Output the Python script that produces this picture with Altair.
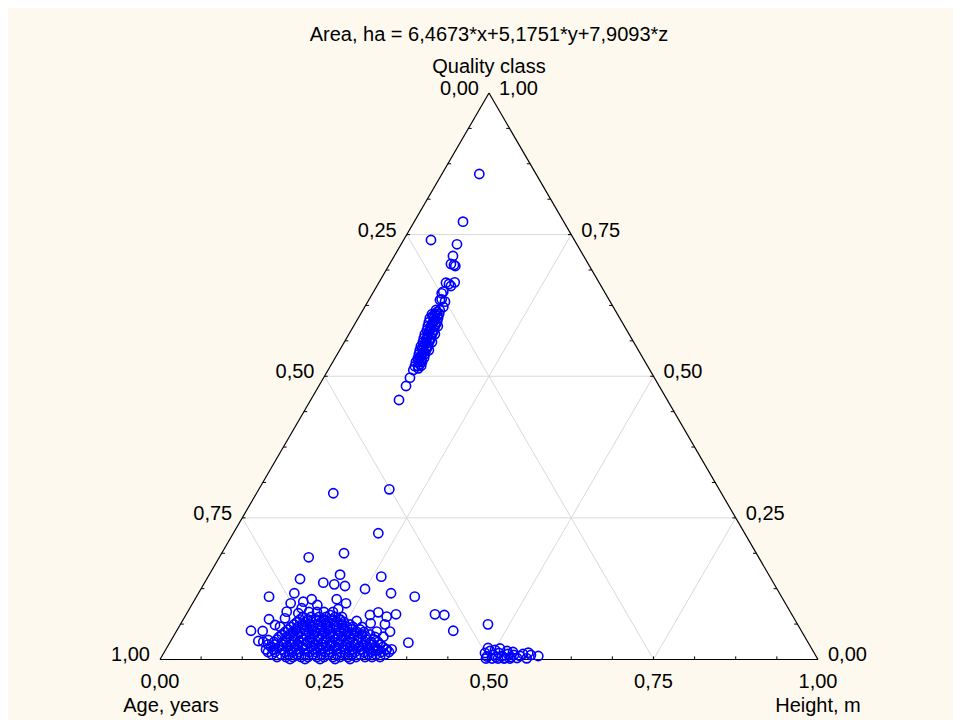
import altair as alt
import pandas as pd

# ---------------- data (ternary fractions) ----------------
# quality = Quality class component (top vertex), height = Height component (bottom-right vertex)
# age = 1 - quality - height (bottom-left vertex)

diag_quality = [0.8570, 0.7728, 0.7405, 0.7329, 0.7123, 0.6981, 0.6964, 0.6946, 0.6651, 0.6628,
                0.6658, 0.6593, 0.6493, 0.6358, 0.6316, 0.6222, 0.6464, 0.6346,
                0.6170, 0.6165, 0.6099, 0.6104, 0.6095, 0.6028, 0.6031, 0.6024,
                0.5958, 0.5962, 0.5953, 0.5887, 0.5890, 0.5884, 0.5882,
                0.5816, 0.5820, 0.5812, 0.5746, 0.5749, 0.5742, 0.5744,
                0.5675, 0.5679, 0.5671, 0.5605, 0.5608, 0.5601, 0.5603,
                0.5534, 0.5538, 0.5530, 0.5463, 0.5467, 0.5459, 0.5461,
                0.5393, 0.5396, 0.5389, 0.5322, 0.5326, 0.5318,
                0.5252, 0.5255, 0.5248, 0.5181, 0.5185, 0.5177,
                0.5110, 0.5140, 0.4974, 0.4828, 0.4581,
                0.6134, 0.6064, 0.6064, 0.5993, 0.5922, 0.5922, 0.5852, 0.5781, 0.5781, 0.5711,
                0.5640, 0.5640, 0.5569, 0.5499, 0.5499, 0.5428, 0.5357, 0.5287, 0.5287, 0.5216]
diag_height = [0.0568, 0.0741, 0.0416, 0.0849, 0.0891, 0.0931, 0.0986, 0.1015, 0.1021, 0.1078,
               0.1150, 0.1125, 0.1059, 0.1102, 0.1173, 0.1194, 0.1049, 0.1082,
               0.1110, 0.1170, 0.1130, 0.1191, 0.1085, 0.1150, 0.1211, 0.1089,
               0.1170, 0.1231, 0.1109, 0.1175, 0.1235, 0.1129, 0.1281,
               0.1195, 0.1256, 0.1150, 0.1200, 0.1261, 0.1154, 0.1306,
               0.1220, 0.1281, 0.1174, 0.1241, 0.1286, 0.1195, 0.1332,
               0.1245, 0.1306, 0.1200, 0.1265, 0.1311, 0.1219, 0.1356,
               0.1286, 0.1331, 0.1240, 0.1290, 0.1351, 0.1260,
               0.1310, 0.1356, 0.1265, 0.1331, 0.1377, 0.1285,
               0.1295, 0.1356, 0.1312, 0.1325, 0.1342,
               0.1143, 0.1117, 0.1178, 0.1183, 0.1173, 0.1234, 0.1193, 0.1197, 0.1258, 0.1218,
               0.1223, 0.1283, 0.1242, 0.1233, 0.1309, 0.1298, 0.1288, 0.1324, 0.1278, 0.1343]

low_quality = [0.2934, 0.3004, 0.2228, 0.1804, 0.1875, 0.1421, 0.1356, 0.1327, 0.1497, 0.1297,
               0.1462, 0.1244, 0.1169, 0.1109, 0.1109, 0.1169, 0.0992, 0.1063, 0.0962, 0.1063,
               0.0992, 0.0891, 0.1020, 0.0904, 0.0816, 0.0844, 0.0727, 0.0710, 0.0508, 0.0503,
               0.0327, 0.0314, 0.0344, 0.0609, 0.0579, 0.0786, 0.0697, 0.0680, 0.0786, 0.0833,
               0.0756, 0.0798, 0.0639, 0.0621, 0.0491, 0.0491, 0.0402, 0.0297, 0.0180, 0.0180,
               0.0168, 0.0168, 0.0798, 0.0786, 0.0508, 0.0621]
low_height = [0.1167, 0.1983, 0.2204, 0.1358, 0.1859, 0.1418, 0.1804, 0.1985, 0.1988, 0.2163,
              0.2632, 0.2494, 0.2927, 0.3317, 0.1103, 0.1457, 0.1490, 0.1774, 0.1910, 0.2154,
              0.2331, 0.2264, 0.1668, 0.1701, 0.1694, 0.1504, 0.1536, 0.1302, 0.1129, 0.1309,
              0.1331, 0.1413, 0.1474, 0.1444, 0.1535, 0.2191, 0.2387, 0.2649, 0.2798, 0.2901,
              0.3067, 0.3188, 0.2882, 0.3108, 0.3048, 0.3250, 0.3193, 0.3626, 0.3431, 0.3355,
              0.3234, 0.3158, 0.3780, 0.3928, 0.4203, 0.4674]

blob_quality = ([0.0044] * 14 + [0.0132] * 16 + [0.0221] * 15 + [0.0309] * 14 + [0.0397] * 13
                + [0.0485] * 11 + [0.0574] * 10 + [0.0662] * 7 + [0.0750] * 6 + [0.0838] * 4
                + [0.0009] * 5
                + [0.0088] * 15 + [0.0177] * 16 + [0.0265] * 15 + [0.0353] * 13 + [0.0441] * 12
                + [0.0530] * 10 + [0.0618] * 8 + [0.0706] * 6)
blob_height = [0.1756, 0.1893, 0.1999, 0.2121, 0.2227, 0.2364, 0.2470, 0.2607, 0.2714, 0.2835,
               0.2957, 0.3094, 0.3200, 0.3322,
               0.1575, 0.1682, 0.1834, 0.1940, 0.2047, 0.2198, 0.2305, 0.2442, 0.2533, 0.2685,
               0.2806, 0.2898, 0.3034, 0.3141, 0.3293, 0.3414,
               0.1577, 0.1699, 0.1820, 0.1942, 0.2048, 0.2185, 0.2306, 0.2413, 0.2550, 0.2671,
               0.2778, 0.2914, 0.3036, 0.3158, 0.3279,
               0.1579, 0.1715, 0.1822, 0.1959, 0.2080, 0.2171, 0.2323, 0.2430, 0.2551, 0.2688,
               0.2779, 0.2916, 0.3053, 0.3159,
               0.1610, 0.1731, 0.1853, 0.1944, 0.2096, 0.2202, 0.2339, 0.2430, 0.2582, 0.2689,
               0.2825, 0.2932, 0.3069,
               0.1657, 0.1778, 0.1885, 0.2021, 0.2128, 0.2265, 0.2356, 0.2508, 0.2614, 0.2751,
               0.2857,
               0.1704, 0.1810, 0.1947, 0.2038, 0.2175, 0.2297, 0.2403, 0.2555, 0.2646, 0.2783,
               0.1751, 0.1873, 0.1979, 0.2116, 0.2222, 0.2359, 0.2465,
               0.1798, 0.1920, 0.2041, 0.2148, 0.2285, 0.2391,
               0.1845, 0.1967, 0.2073, 0.2210,
               0.1972, 0.2200, 0.2428, 0.2656, 0.2884,
               0.1658, 0.1795, 0.1917, 0.2038, 0.2160, 0.2281, 0.2403, 0.2524, 0.2646, 0.2768,
               0.2874, 0.2996, 0.3117, 0.3239, 0.3376,
               0.1523, 0.1645, 0.1766, 0.1888, 0.1994, 0.2116, 0.2252, 0.2359, 0.2480, 0.2602,
               0.2724, 0.2845, 0.2967, 0.3088, 0.3210, 0.3347,
               0.1509, 0.1616, 0.1737, 0.1859, 0.1965, 0.2087, 0.2224, 0.2330, 0.2467, 0.2588,
               0.2695, 0.2832, 0.2953, 0.3075, 0.3212,
               0.1601, 0.1738, 0.1860, 0.1996, 0.2103, 0.2224, 0.2346, 0.2483, 0.2574, 0.2711,
               0.2832, 0.2954, 0.3075,
               0.1633, 0.1755, 0.1876, 0.1998, 0.2119, 0.2241, 0.2363, 0.2484, 0.2606, 0.2727,
               0.2849, 0.2971,
               0.1680, 0.1802, 0.1924, 0.2045, 0.2167, 0.2288, 0.2410, 0.2531, 0.2653, 0.2775,
               0.1728, 0.1849, 0.1971, 0.2092, 0.2214, 0.2335, 0.2457, 0.2579,
               0.1775, 0.1896, 0.2018, 0.2139, 0.2261, 0.2383]

mid_quality = [0.0203, 0.0115, 0.0053, 0.0150, 0.0079, 0.0044, 0.0115, 0.0062, 0.0026, 0.0097,
               0.0044, 0.0079, 0.0026, 0.0062, 0.0097, 0.0021, 0.0120, 0.0079, 0.0062, 0.0018,
               0.0018, 0.0018, 0.0018, 0.0018, 0.0132, 0.0150, 0.0168, 0.0194]
mid_height = [0.4884, 0.4882, 0.4943, 0.4940, 0.5021, 0.5084, 0.5094, 0.5167, 0.5230, 0.5240,
              0.5312, 0.5340, 0.5413, 0.5440, 0.5468, 0.5562, 0.5537, 0.5598, 0.5718, 0.4945,
              0.5037, 0.5128, 0.5219, 0.5310, 0.5299, 0.5199, 0.5007, 0.5070]

tick_values = [0.0, 0.25, 0.5, 0.75, 1.0]
grid_values = [0.25, 0.5, 0.75]
minor_step = 0.0625

title_text = "Area, ha = 6,4673*x+5,1751*y+7,9093*z"
top_name = "Quality class"
left_name = "Age, years"
right_name = "Height, m"

# ---------------- build tables ----------------
quality = diag_quality + low_quality + blob_quality + mid_quality
height = diag_height + low_height + blob_height + mid_height
pts = pd.DataFrame({"quality": quality, "height": height})
pts["age"] = 1 - pts["quality"] - pts["height"]
# ternary -> triangle coordinates (u along the base, h = fraction of triangle height)
pts["u"] = pts["height"] + pts["quality"] / 2
pts["h"] = pts["quality"]

def fmt(v):
    return f"{v:.2f}".replace(".", ",")

edges = pd.DataFrame({"u": [0, 0.5, 1.0], "h": [0, 1, 0], "u2": [0.5, 1.0, 0], "h2": [1, 0, 0]})
fill = pd.DataFrame({"u": [0, 0.5, 1.0], "h": [0, 1, 0], "base": [0, 0, 0]})

grid_rows = []
for t in grid_values:
    grid_rows.append({"u": t / 2, "h": t, "u2": 1 - t / 2, "h2": t})
    grid_rows.append({"u": t, "h": 0, "u2": t + (1 - t) / 2, "h2": 1 - t})
    grid_rows.append({"u": t, "h": 0, "u2": t / 2, "h2": t})
grid = pd.DataFrame(grid_rows)

tick_rows = []
k = minor_step
while k < 1 - 1e-9:
    tick_rows.append({"u": k, "h": 0, "u2": k, "h2": 0.0055})
    tick_rows.append({"u": k / 2, "h": k, "u2": k / 2 + 0.005, "h2": k})
    tick_rows.append({"u": 1 - k / 2, "h": k, "u2": 1 - k / 2 - 0.005, "h2": k})
    k += minor_step
ticks = pd.DataFrame(tick_rows)

bottom_lab = pd.DataFrame({"u": tick_values, "h": [0] * 5, "text": [fmt(v) for v in tick_values]})
left_lab = pd.DataFrame({"u": [(1 - a) / 2 for a in tick_values], "h": [1 - a for a in tick_values],
                         "text": [fmt(a) for a in tick_values]})
right_lab = pd.DataFrame({"u": [1 - q / 2 for q in tick_values], "h": tick_values,
                          "text": [fmt(q) for q in tick_values]})
apex = pd.DataFrame({"u": [0.5], "h": [1.0]})
left_v = pd.DataFrame({"u": [0.0], "h": [0.0]})
right_v = pd.DataFrame({"u": [1.0], "h": [0.0]})

# ---------------- scales ----------------
XS = alt.Scale(domain=[-0.2310, 1.2052], nice=False, zero=False)
YS = alt.Scale(domain=[-0.1068, 1.1500], nice=False, zero=False)
FONT = "Liberation Sans"
FS = 20

def X(f="u"):
    return alt.X(f"{f}:Q", scale=XS, axis=None)

def Y(f="h"):
    return alt.Y(f"{f}:Q", scale=YS, axis=None)

tri_fill = alt.Chart(fill).mark_area(color="white", opacity=1).encode(
    x=X(), y=Y(), y2=alt.Y2("base:Q"))
grid_l = alt.Chart(grid).mark_rule(color="#D9D9D9", strokeWidth=1).encode(
    x=X(), y=Y(), x2=alt.X2("u2:Q"), y2=alt.Y2("h2:Q"))
tick_l = alt.Chart(ticks).mark_rule(color="black", strokeWidth=1).encode(
    x=X(), y=Y(), x2=alt.X2("u2:Q"), y2=alt.Y2("h2:Q"))
edge_l = alt.Chart(edges).mark_rule(color="black", strokeWidth=1.2).encode(
    x=X(), y=Y(), x2=alt.X2("u2:Q"), y2=alt.Y2("h2:Q"))
points = alt.Chart(pts).mark_point(shape="circle", filled=False, color="#0000FF",
                                   size=85, strokeWidth=1.6, opacity=1).encode(x=X(), y=Y())

def txt(df, **kw):
    return alt.Chart(df).mark_text(font=FONT, fontSize=FS, color="black",
                                   baseline="alphabetic", **kw).encode(x=X(), y=Y(), text="text:N")

def name(df, label, **kw):
    return alt.Chart(df).mark_text(font=FONT, fontSize=FS, color="black", baseline="alphabetic",
                                   text=label, **kw).encode(x=X(), y=Y())

layers = [
    tri_fill, grid_l, tick_l, edge_l, points,
    txt(bottom_lab, align="center", dy=29),
    txt(left_lab, align="right", dx=-10, dy=2),
    txt(right_lab, align="left", dx=10, dy=2),
    name(apex, top_name, align="center", dy=-20),
    name(apex, title_text, align="center", dy=-52),
    name(left_v, left_name, align="center", dx=11, dy=53),
    name(right_v, right_name, align="center", dy=53),
]

chart = alt.layer(*layers).properties(
    width=945, height=712, background="#FDF9EE",
    padding=0, autosize=alt.AutoSizeParams(type="none"),
).configure_view(stroke=None)

chart.save("out.html", embed_options={"renderer": "svg", "actions": False})
